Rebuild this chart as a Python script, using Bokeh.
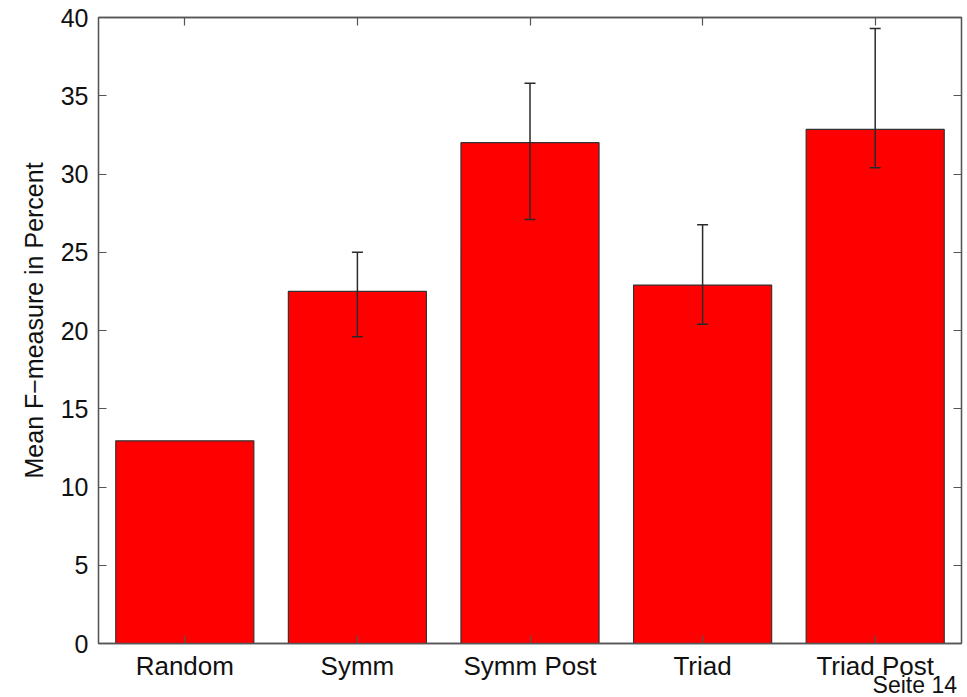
from bokeh.plotting import figure
from bokeh.layouts import column
from bokeh.models import (FactorRange, Range1d, LinearAxis, CategoricalAxis,
                          Whisker, TeeHead, ColumnDataSource, Div, Title,
                          SingleIntervalTicker)
from bokeh.embed import file_html
from bokeh.resources import INLINE

# Mean F-measure per method, with error bar bounds (Random has none)
categories = ["Random", "Symm", "Symm Post", "Triad", "Triad Post"]
mean_f = [12.95, 22.5, 32.0, 22.9, 32.85]
err_categories = ["Symm", "Symm Post", "Triad", "Triad Post"]
err_lower = [19.6, 27.1, 20.4, 30.4]
err_upper = [25.0, 35.8, 26.75, 39.3]
y_ticks_step = 5

FONT = "Liberation Sans"
FRAME = "#555555"
TEXT = "#111111"

p = figure(
    x_range=FactorRange(*categories, range_padding=0),
    y_range=Range1d(0, 40),
    width=967, height=697,
    output_backend="svg", toolbar_location=None,
    min_border_left=98, min_border_right=6,
    min_border_top=17, min_border_bottom=54,
    background_fill_color="white", border_fill_color="white",
)
p.grid.visible = False
p.outline_line_color = FRAME
p.outline_line_width = 1.3

bars = ColumnDataSource(dict(cat=categories, val=mean_f))
p.vbar(x="cat", top="val", width=0.8, source=bars,
       fill_color="#ff0000", line_color="#333333", line_width=1.2)

errs = ColumnDataSource(dict(cat=err_categories, lo=err_lower, hi=err_upper))
p.add_layout(Whisker(
    source=errs, base="cat", lower="lo", upper="hi", dimension="height",
    level="overlay",
    line_color="#2a2a2a", line_width=1.5,
    upper_head=TeeHead(size=11, line_color="#2a2a2a", line_width=1.5),
    lower_head=TeeHead(size=11, line_color="#2a2a2a", line_width=1.5),
))


def style_axis(ax, show_labels=True, size="25px"):
    ax.axis_line_color = FRAME
    ax.axis_line_width = 1.3
    ax.major_tick_line_color = FRAME
    ax.major_tick_line_width = 1.2
    ax.major_tick_in = 8
    ax.major_tick_out = 0
    ax.minor_tick_line_color = None
    ax.major_label_text_font = FONT
    ax.major_label_text_color = TEXT
    if show_labels:
        ax.major_label_text_font_size = size
    else:
        ax.major_label_text_font_size = "0px"
        ax.major_label_standoff = 0


style_axis(p.xaxis[0], size="26px")
p.xaxis[0].major_label_standoff = 7

yax = p.yaxis[0]
yax.ticker = SingleIntervalTicker(interval=y_ticks_step)
style_axis(yax, size="25px")
yax.major_label_standoff = 6

# y-axis caption, set a little above the vertical centre of the frame
p.add_layout(Title(
    text="Mean F\u2212measure in Percent", align="left", offset=165,
    text_font=FONT, text_font_size="25px", text_font_style="normal",
    text_color=TEXT, standoff=20,
), "left")

right_ax = LinearAxis(ticker=SingleIntervalTicker(interval=y_ticks_step))
style_axis(right_ax, show_labels=False)
p.add_layout(right_ax, "right")

top_ax = CategoricalAxis()
style_axis(top_ax, show_labels=False)
p.add_layout(top_ax, "above")

# page footer sitting just under the last category label
footer = Div(
    text="Seite 14", width=100, height=20, margin=(-22, 0, 0, 857),
    styles={"font-family": FONT, "font-size": "23px", "line-height": "20px",
            "color": TEXT, "text-align": "right", "white-space": "nowrap"},
)

page = column(p, footer, spacing=0)
open("out.html", "w").write(file_html(page, INLINE))
